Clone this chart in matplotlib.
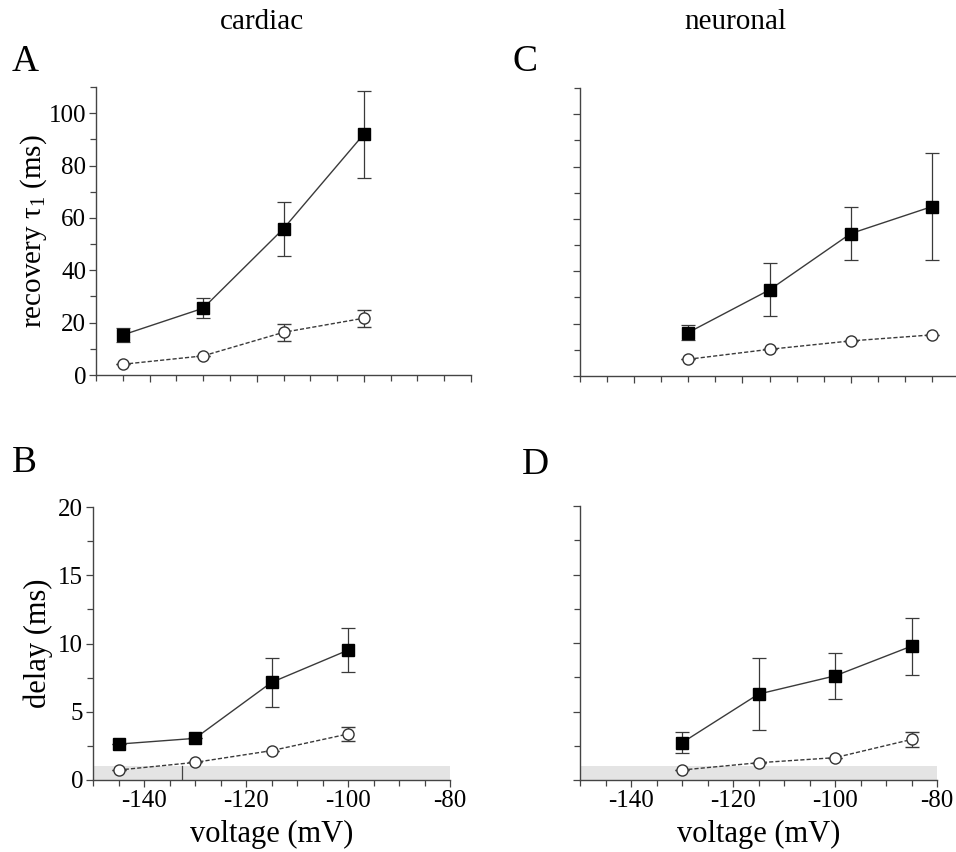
import matplotlib
matplotlib.use("Agg")
import matplotlib.pyplot as plt
from matplotlib.ticker import MultipleLocator

plt.rcParams["font.family"] = ["Liberation Serif", "DejaVu Serif"]
plt.rcParams["mathtext.fontset"] = "custom"
plt.rcParams["mathtext.rm"] = "Liberation Serif"
plt.rcParams["axes.unicode_minus"] = False

# cardiac, recovery tau1 (panel A)
card_v = [-145, -130, -115, -100]
card_tau_ctrl = [15.3, 25.5, 55.9, 92.0]
card_tau_ctrl_err = [2.7, 3.9, 10.3, 16.6]
card_tau_drug = [4.1, 7.3, 16.3, 21.7]
card_tau_drug_err = [0.0, 0.0, 3.2, 3.3]

# cardiac, delay (panel B)
card_delay_ctrl = [2.63, 3.05, 7.15, 9.51]
card_delay_ctrl_err = [0.0, 0.0, 1.8, 1.6]
card_delay_drug = [0.73, 1.29, 2.15, 3.37]
card_delay_drug_err = [0.0, 0.0, 0.0, 0.5]

# neuronal, recovery tau1 (panel C)
neur_v = [-130, -115, -100, -85]
neur_tau_ctrl = [16.6, 32.9, 54.4, 64.7]
neur_tau_ctrl_err = [3.0, 10.1, 10.0, 20.4]
neur_tau_drug = [6.4, 10.2, 13.4, 15.7]
neur_tau_drug_err = [0.0, 0.0, 0.0, 0.0]

# neuronal, delay (panel D)
neur_delay_ctrl = [2.72, 6.27, 7.6, 9.77]
neur_delay_ctrl_err = [0.75, 2.65, 1.7, 2.07]
neur_delay_drug = [0.73, 1.26, 1.63, 2.96]
neur_delay_drug_err = [0.0, 0.0, 0.0, 0.58]

band_top = 1.0
stray_tick_v = -132.5

W, H = 956, 852
fig = plt.figure(figsize=(W / 100, H / 100), dpi=100)


def px(l, b, r, t):
    return [l / W, 1 - b / H, (r - l) / W, (b - t) / H]


def style(ax, ymax, ymaj, ymin, ylabels, xlabels):
    for s in ["top", "right"]:
        ax.spines[s].set_visible(False)
    for s in ["left", "bottom"]:
        ax.spines[s].set_color("#444444")
        ax.spines[s].set_linewidth(1.0)
    ax.set_xlim(-150, -80)
    ax.set_ylim(0, ymax)
    ax.xaxis.set_major_locator(MultipleLocator(20))
    ax.xaxis.set_minor_locator(MultipleLocator(5))
    ax.yaxis.set_major_locator(MultipleLocator(ymaj))
    ax.yaxis.set_minor_locator(MultipleLocator(ymin))
    ax.tick_params(which="both", direction="out", color="#444444", width=0.9,
                   labelsize=18, pad=2)
    ax.tick_params(which="major", length=5)
    ax.tick_params(which="minor", length=4)
    if not ylabels:
        ax.set_yticklabels([])
    if not xlabels:
        ax.set_xticklabels([])


def draw(ax, v, c, ce, d, de):
    ax.errorbar(v, c, yerr=ce, color="#3a3a3a", lw=1.0, elinewidth=0.9,
                capsize=5, capthick=0.9, marker="s", ms=9,
                mfc="black", mec="black", zorder=3)
    ax.errorbar(v, d, yerr=de, color="#3a3a3a", lw=1.0, ls=(0, (3, 1.5)),
                elinewidth=0.9, capsize=5, capthick=0.9, marker="o", ms=8,
                mfc="white", mec="#333333", mew=1.0, zorder=3)


axA = fig.add_axes(px(96, 375, 471, 87))
draw(axA, card_v, card_tau_ctrl, card_tau_ctrl_err, card_tau_drug, card_tau_drug_err)
style(axA, 110, 20, 10, True, False)
axA.set_ylabel(r"recovery τ$_1$ (ms)", fontsize=21, labelpad=0)

axC = fig.add_axes(px(580, 376, 959, 88))
draw(axC, neur_v, neur_tau_ctrl, neur_tau_ctrl_err, neur_tau_drug, neur_tau_drug_err)
style(axC, 110, 20, 10, False, False)

axB = fig.add_axes(px(93, 780, 450, 507))
axB.axhspan(0, band_top, color="#e4e4e4", lw=0, zorder=0)
axB.plot([stray_tick_v, stray_tick_v], [0, band_top], color="#444444", lw=0.9)
draw(axB, card_v, card_delay_ctrl, card_delay_ctrl_err, card_delay_drug, card_delay_drug_err)
style(axB, 20, 5, 2.5, True, True)
axB.set_ylabel("delay (ms)", fontsize=22, labelpad=4)
axB.set_xlabel("voltage (mV)", fontsize=22, labelpad=6)

axD = fig.add_axes(px(580, 780, 937, 506))
axD.axhspan(0, band_top, color="#e4e4e4", lw=0, zorder=0)
draw(axD, neur_v, neur_delay_ctrl, neur_delay_ctrl_err, neur_delay_drug, neur_delay_drug_err)
style(axD, 20, 5, 2.5, False, True)
axD.set_xlabel("voltage (mV)", fontsize=22, labelpad=6)

fig.text(262 / W, 1 - 22 / H, "cardiac", fontsize=21, ha="center", va="center")
fig.text(735 / W, 1 - 22 / H, "neuronal", fontsize=21, ha="center", va="center")
for lab, x, y in [("A", 12, 62), ("C", 512, 62), ("B", 12, 463), ("D", 522, 465)]:
    fig.text(x / W, 1 - y / H, lab, fontsize=27, ha="left", va="center")

fig.savefig("out.png", dpi=100)
